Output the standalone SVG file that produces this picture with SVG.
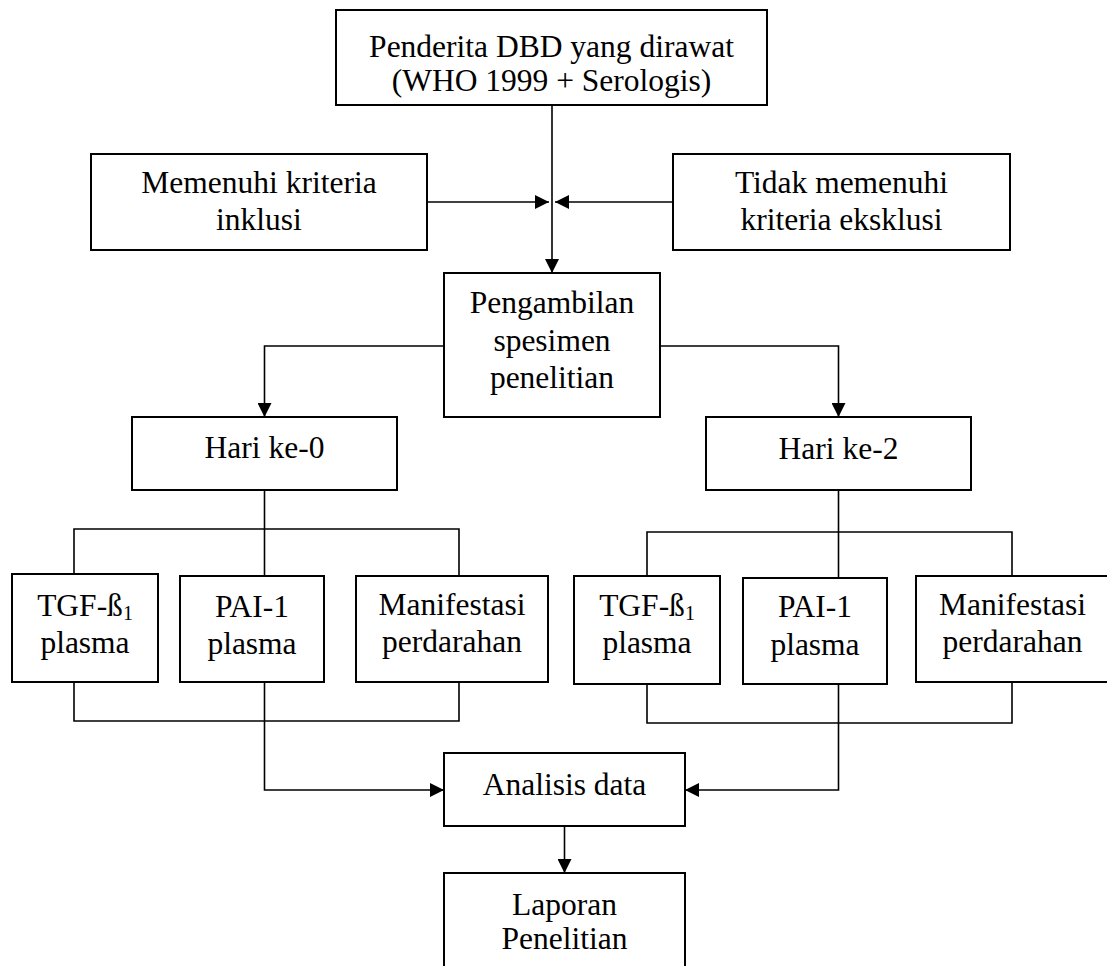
<svg xmlns="http://www.w3.org/2000/svg" width="1107" height="966" viewBox="0 0 1107 966">
<style>
.box{fill:#fff;stroke:#000;stroke-width:2}
.con{fill:none;stroke:#000;stroke-width:1.6}
text{font-family:"Liberation Serif","Times New Roman",serif;font-size:31.5px;fill:#000;text-anchor:middle}
.sub{font-size:20px}
</style>
<defs>
<marker id="ah" markerUnits="userSpaceOnUse" viewBox="0 0 14 14" refX="14" refY="7" markerWidth="14" markerHeight="14" orient="auto">
<path d="M0,0 L14,7 L0,14 z" fill="#000"/>
</marker>
</defs>
<rect width="1107" height="966" fill="#fff"/>
<g id="connectors">
<path class="con" d="M552,105 V273" marker-end="url(#ah)"/>
<path class="con" d="M428,202 H549" marker-end="url(#ah)"/>
<path class="con" d="M673,202 H555" marker-end="url(#ah)"/>
<path class="con" d="M444,346 H264.5 V417" marker-end="url(#ah)"/>
<path class="con" d="M660,346 H838.5 V417" marker-end="url(#ah)"/>
<path class="con" d="M264.5,490 V576"/>
<path class="con" d="M74,576 V529 H459 V576"/>
<path class="con" d="M838.5,490 V578"/>
<path class="con" d="M647,576 V532 H1012 V576"/>
<path class="con" d="M74,682 V721 H459 V682"/>
<path class="con" d="M264.5,682 V790 H444" marker-end="url(#ah)"/>
<path class="con" d="M647,684 V723 H1012 V682"/>
<path class="con" d="M838.5,684 V790 H685" marker-end="url(#ah)"/>
<path class="con" d="M564.5,826 V873" marker-end="url(#ah)"/>
</g>
<g id="penderita">
<rect class="box" x="336" y="10" width="431" height="95"/>
<text x="551.5" y="57">Penderita DBD yang dirawat</text>
<text x="551.5" y="91">(WHO 1999 + Serologis)</text>
</g>
<g id="inklusi">
<rect class="box" x="91" y="154" width="336" height="96"/>
<text x="259" y="193">Memenuhi kriteria</text>
<text x="259" y="230">inklusi</text>
</g>
<g id="eksklusi">
<rect class="box" x="673" y="154" width="337" height="96"/>
<text x="841.5" y="193">Tidak memenuhi</text>
<text x="841.5" y="230">kriteria eksklusi</text>
</g>
<g id="pengambilan">
<rect class="box" x="444" y="273" width="216" height="144"/>
<text x="552" y="313">Pengambilan</text>
<text x="552" y="351">spesimen</text>
<text x="552" y="388">penelitian</text>
</g>
<g id="hari0">
<rect class="box" x="132" y="417" width="265" height="73"/>
<text x="264.5" y="458">Hari ke-0</text>
</g>
<g id="hari2">
<rect class="box" x="706" y="417" width="265" height="73"/>
<text x="838.5" y="459">Hari ke-2</text>
</g>
<g id="tgf0">
<rect class="box" x="12" y="574" width="146" height="108"/>
<text x="85" y="616">TGF-ß<tspan class="sub" dy="4">1</tspan></text>
<text x="85" y="653">plasma</text>
</g>
<g id="pai0">
<rect class="box" x="180" y="576" width="144" height="106"/>
<text x="252" y="617">PAI-1</text>
<text x="252" y="654">plasma</text>
</g>
<g id="manif0">
<rect class="box" x="356" y="576" width="192" height="106"/>
<text x="452" y="615">Manifestasi</text>
<text x="452" y="652">perdarahan</text>
</g>
<g id="tgf2">
<rect class="box" x="574" y="576" width="146" height="108"/>
<text x="647" y="616">TGF-ß<tspan class="sub" dy="4">1</tspan></text>
<text x="647" y="653">plasma</text>
</g>
<g id="pai2">
<rect class="box" x="743" y="578" width="144" height="106"/>
<text x="815" y="617">PAI-1</text>
<text x="815" y="655">plasma</text>
</g>
<g id="manif2">
<rect class="box" x="916" y="576" width="196" height="106"/>
<text x="1012.5" y="615">Manifestasi</text>
<text x="1012.5" y="652">perdarahan</text>
</g>
<g id="analisis">
<rect class="box" x="444" y="753" width="241" height="73"/>
<text x="564.5" y="795">Analisis data</text>
</g>
<g id="laporan">
<rect class="box" x="444" y="873" width="241" height="130"/>
<text x="564.5" y="915">Laporan</text>
<text x="564.5" y="949">Penelitian</text>
</g>
</svg>
